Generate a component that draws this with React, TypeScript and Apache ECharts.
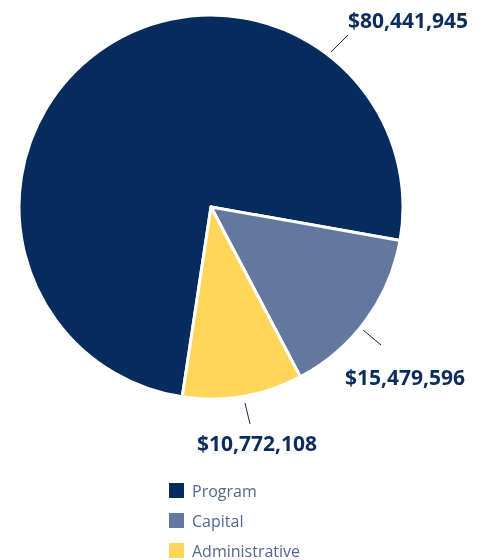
import React, { useEffect, useRef } from "react";
import * as echarts from "echarts";

const categories = ["Program", "Capital", "Administrative"];
const values = [80441945, 15479596, 10772108];
const valueLabels = ["$80,441,945", "$15,479,596", "$10,772,108"];
const colors = ["#062c5e", "#64779f", "#ffd55a"];

// label layout: [x, y, align, line points]
const labelSpots: [number, number, string, number[][]][] = [
  [348, 20, "left", [[331, 52], [348, 35], [348, 35]]],
  [345, 377, "left", [[363, 330], [381, 345], [381, 345]]],
  [197, 443, "left", [[245, 403], [250, 424], [250, 424]]],
];

export default function App() {
  const ref = useRef<HTMLDivElement>(null);
  useEffect(() => {
    if (!ref.current) return;
    const chart = echarts.init(ref.current, null, { renderer: "svg" });
    chart.setOption({
      animation: false,
      color: colors,
      legend: {
        orient: "vertical",
        left: 167,
        top: 481,
        height: 120,
        padding: 0,
        itemWidth: 17,
        itemHeight: 17,
        itemGap: 11,
        icon: "rect",
        data: categories,
        textStyle: {
          fontFamily: "Open Sans",
          fontSize: 16,
          lineHeight: 17,
          color: "#52668f",
          padding: [0, 0, 0, 2],
        },
      },
      series: [
        {
          type: "pie",
          center: [211, 207],
          radius: 192,
          startAngle: 261.4,
          clockwise: true,
          itemStyle: { borderColor: "#ffffff", borderWidth: 3 },
          emphasis: { disabled: true },
          label: {
            show: true,
            position: "outside",
            overflow: "none",
            formatter: (p: any) => valueLabels[p.dataIndex],
            fontFamily: "Open Sans",
            fontWeight: "bold",
            fontSize: 21,
            color: "#0d2c5e",
          },
          labelLine: {
            show: true,
            length: 10,
            length2: 0,
            lineStyle: { color: "#0d2c5e", width: 1 },
          },
          labelLayout: (params: any) => {
            const s = labelSpots[params.dataIndex];
            return {
              x: s[0],
              y: s[1],
              align: s[2],
              verticalAlign: "middle",
              labelLinePoints: s[3],
            };
          },
          data: categories.map((name, i) => ({ name, value: values[i] })),
        },
      ],
    });
    return () => chart.dispose();
  }, []);
  return (
    <div
      ref={ref}
      style={{ position: "fixed", left: 0, top: 0, width: 488, height: 560 }}
    />
  );
}
